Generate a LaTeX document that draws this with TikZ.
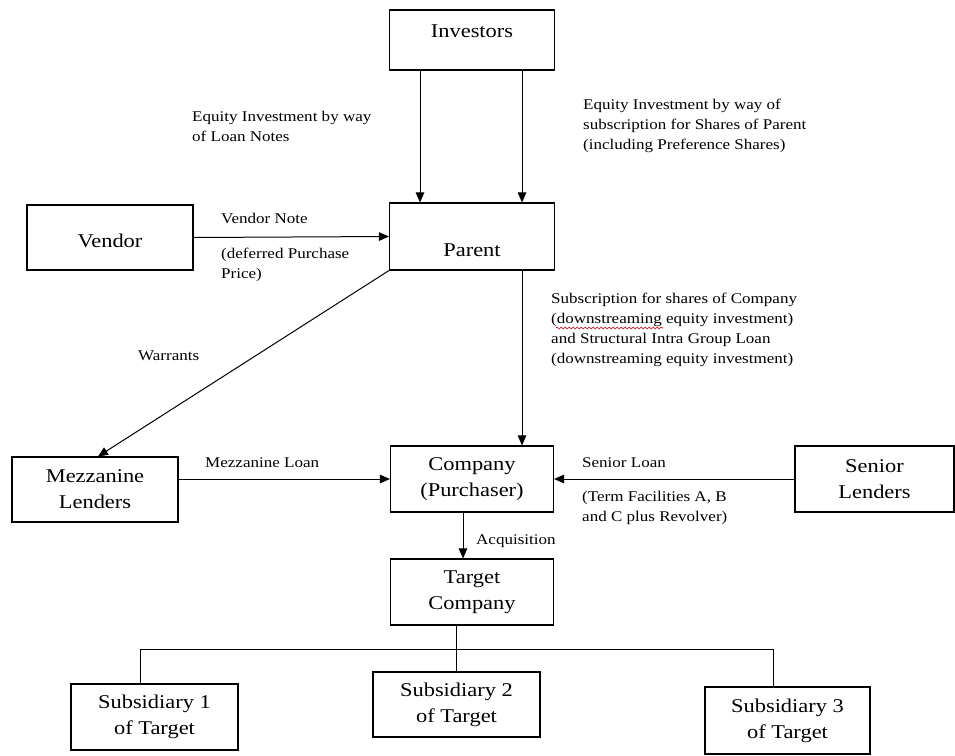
\documentclass[tikz,border=0pt]{standalone}
\usepackage{fontspec}
\setmainfont{Liberation Serif}[FakeStretch=1.15]
\usetikzlibrary{arrows.meta,decorations.pathmorphing}
\begin{document}
\begin{tikzpicture}[x=1pt,y=-1pt,
  box/.style={draw, line width=1.1pt, inner sep=0pt},
  boxtxt/.style={align=center, inner sep=0pt,
    font=\fontsize{19.5}{26}\selectfont},
  lbl/.style={anchor=north west, align=left, inner sep=0pt,
    font=\fontsize{14.8}{20}\selectfont},
  arr/.style={line width=1pt, -{Triangle[length=10pt,width=8.5pt]}},
  wire/.style={line width=1pt}]
\useasboundingbox (0,0) rectangle (955,755);

% entities
\node[box, minimum width=165pt, minimum height=60pt] (inv) at (472,40) {};
\node[box, minimum width=165pt, minimum height=67pt] (par) at (472,236.5) {};
\node[box, minimum width=166pt, minimum height=65pt] (ven) at (110,237.5) {};
\node[box, minimum width=166pt, minimum height=65pt] (mez) at (95,489.5) {};
\node[box, minimum width=163pt, minimum height=66pt] (com) at (472,479) {};
\node[box, minimum width=159pt, minimum height=66pt] (sen) at (874.5,479) {};
\node[box, minimum width=163pt, minimum height=66pt] (tar) at (472,592) {};
\node[box, minimum width=167pt, minimum height=66pt] (s1) at (154.5,717) {};
\node[box, minimum width=167pt, minimum height=65pt] (s2) at (456.5,704.5) {};
\node[box, minimum width=165pt, minimum height=67pt] (s3) at (787.5,720.5) {};

% entity names (yshift is in page units: positive moves up)
\node[boxtxt] (inv-t) at ([yshift=9pt]inv.center) {Investors};
\node[boxtxt] (par-t) at ([yshift=-13.5pt]par.center) {Parent};
\node[boxtxt] (ven-t) at ([yshift=-3.5pt]ven.center) {Vendor};
\node[boxtxt] (mez-t) at (mez.center) {Mezzanine\\Lenders};
\node[boxtxt] (com-t) at (com.center) {Company\\(Purchaser)};
\node[boxtxt] (sen-t) at (sen.center) {Senior\\Lenders};
\node[boxtxt] (tar-t) at (tar.center) {Target\\Company};
\node[boxtxt] (s1-t) at (s1.center) {Subsidiary 1\\of Target};
\node[boxtxt] (s2-t) at (s2.center) {Subsidiary 2\\of Target};
\node[boxtxt] (s3-t) at (s3.center) {Subsidiary 3\\of Target};

% flows
\draw[arr] ([xshift=-52pt]inv.south) -- ([xshift=-52pt]par.north);
\draw[arr] ([xshift=50pt]inv.south) -- ([xshift=50pt]par.north);
\draw[arr] (ven.east) -- (par.west);
\draw[arr] (par.south west) -- ([xshift=3pt]mez.north);
\draw[arr] ([xshift=50pt]par.south) -- ([xshift=50pt]com.north);
\draw[arr] (mez.east |- com.west) -- (com.west);
\draw[arr] (sen.west) -- (com.east);
\draw[arr] ([xshift=-9pt]com.south) -- ([xshift=-9pt]tar.north);

% ownership tree
\draw[wire] (tar.south -| s2.north) -- (s2.north);
\draw[wire] ([xshift=-14.5pt]s1.north) -- ++(0,-34) -| ([xshift=-14.5pt]s3.north);

% flow labels
\node[lbl] (l1) at (192,111) {Equity Investment by way\\of Loan Notes};
\node[lbl] (l2) at (583,99) {Equity Investment by way of\\subscription for Shares of Parent\\(including Preference Shares)};
\node[lbl] (l3) at (221,213) {Vendor Note};
\node[lbl] (l4) at (221,248) {(deferred Purchase\\Price)};
\node[lbl] (l5) at (138,351) {Warrants};
\node[lbl] (l6) at (551,293) {Subscription for shares of Company\\(downstreaming equity investment)\\and Structural Intra Group Loan\\(downstreaming equity investment)};
\node[lbl] (l7) at (205,457) {Mezzanine Loan};
\node[lbl] (l8) at (582,457) {Senior Loan};
\node[lbl] (l9) at (582,491) {(Term Facilities A, B\\and C plus Revolver)};
\node[lbl] (l10) at (476,534) {Acquisition};

% spell-check squiggle
\draw[red!80!black, line width=0.6pt, decorate,
  decoration={snake, amplitude=1pt, segment length=4pt}] (556,328) -- (663,328);
\end{tikzpicture}
\end{document}
